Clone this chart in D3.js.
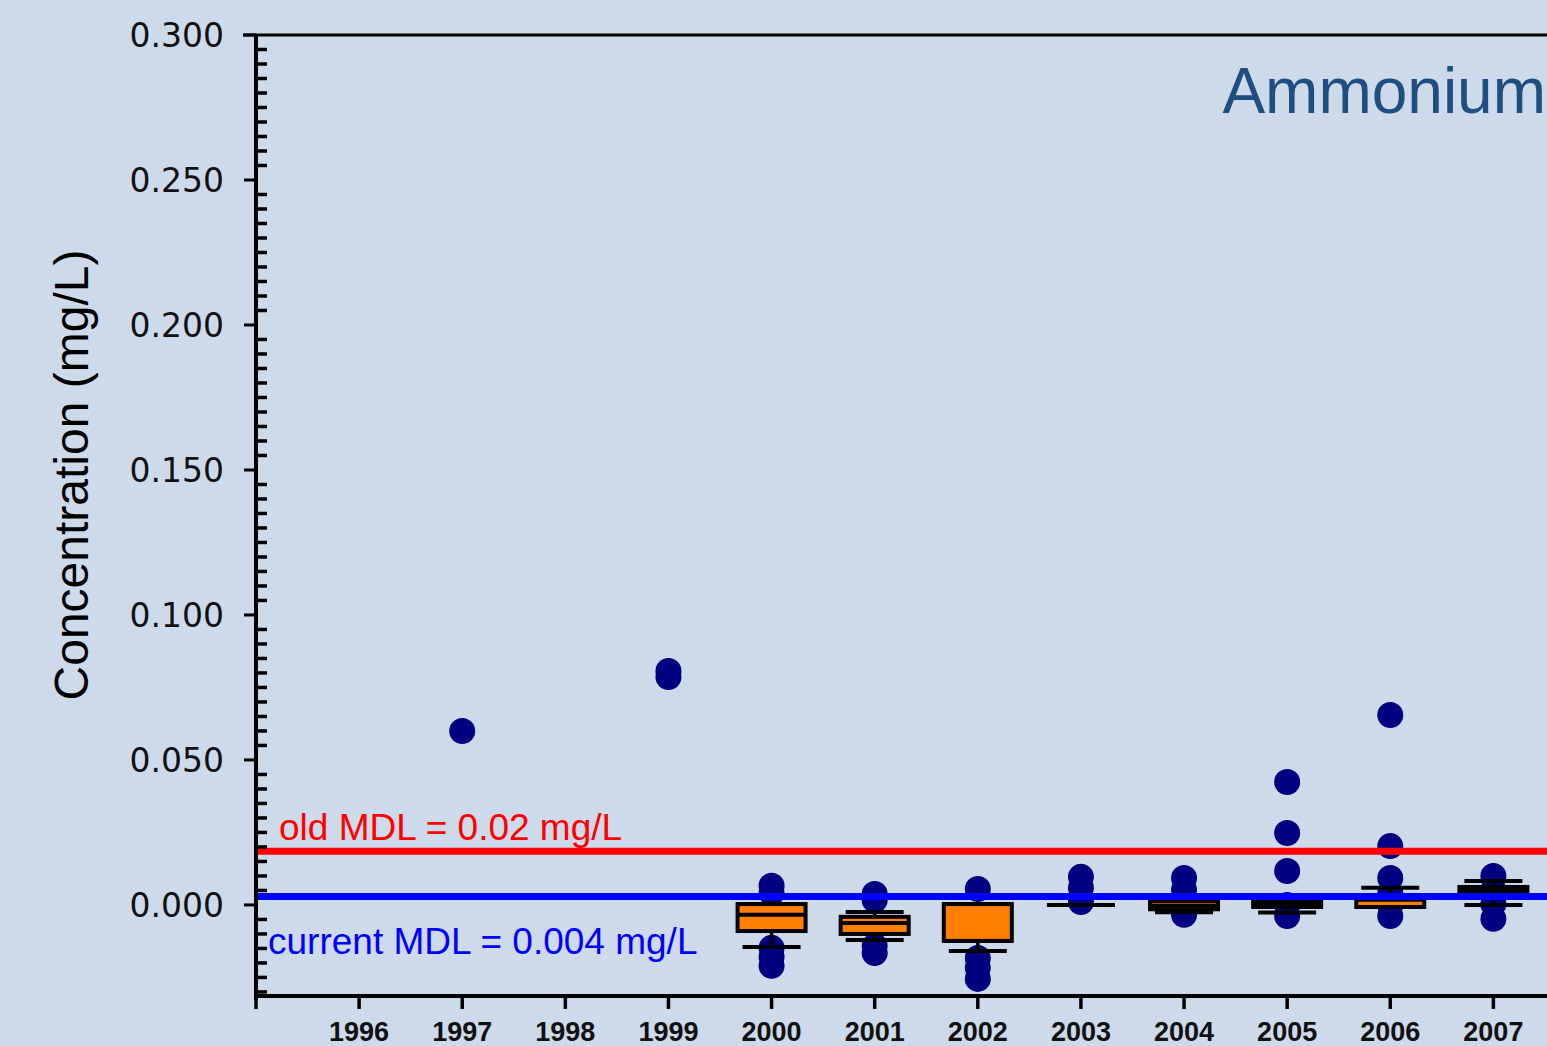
<!DOCTYPE html>
<html>
<head>
<meta charset="utf-8">
<script src="https://cdn.jsdelivr.net/npm/d3@7"></script>
<style>
  html, body { margin: 0; padding: 0; background: #cddaea; overflow: hidden; }
  svg { display: block; }
</style>
</head>
<body>
<script>
// box plot summary per year
const boxYears    = [2000, 2001, 2002, 2003, 2004, 2005, 2006, 2007];
const lowWhisker  = [-0.0145, -0.0121, -0.0159, 0, -0.0025, -0.0026, -0.0007, 0.0000];
const q1          = [-0.0090, -0.0100, -0.0124, 0, -0.0015, -0.0007, -0.0007, 0.0034];
const median      = [-0.0034, -0.0062, -0.0124, 0, -0.0003,  0.0003, -0.0007, 0.0048];
const q3          = [ 0.0003, -0.0041,  0.0003, 0,  0.0013,  0.0013,  0.0018, 0.0062];
const highWhisker = [ 0.0003, -0.0024,  0.0003, 0,  0.0013,  0.0013,  0.0059, 0.0083];

// individual samples (dots)
const pointYears  = [1997, 1999, 1999,
  2000, 2000, 2000, 2000, 2000,
  2001, 2001, 2001, 2001,
  2002, 2002, 2002, 2002,
  2003, 2003, 2003, 2003,
  2004, 2004, 2004, 2004, 2004,
  2005, 2005, 2005, 2005, 2005,
  2006, 2006, 2006, 2006, 2006, 2006,
  2007, 2007, 2007, 2007];
const pointValues = [0.0600, 0.0807, 0.0786,
  0.0066, 0.0041, -0.0148, -0.0179, -0.0210,
  0.0038, 0.0017, -0.0141, -0.0166,
  0.0055, -0.0183, -0.0217, -0.0255,
  0.0097, 0.0059, 0.0024, 0.0010,
  0.0093, 0.0052, 0.0014, -0.0024, -0.0034,
  0.0424, 0.0248, 0.0117, 0.0000, -0.0038,
  0.0655, 0.0203, 0.0093, 0.0041, 0.0000, -0.0038,
  0.0100, 0.0052, 0.0003, -0.0048];

const xTickYears = [1996, 1997, 1998, 1999, 2000, 2001, 2002, 2003, 2004, 2005, 2006, 2007];
const yTicks = [0, 0.05, 0.10, 0.15, 0.20, 0.25, 0.30];

// detection limit lines (drawn where the picture shows them)
const mdlLabels = ["old MDL = 0.02 mg/L", "current MDL = 0.004 mg/L"];
const mdlValues = [0.0185, 0.0029];
const mdlColors = ["#ff0000", "#0000ff"];

const W = 1547, H = 1046;
const plotLeft = 256, plotRight = W, plotTop = 35, plotBottom = 996;

const svg = d3.select('body').append('svg')
  .attr('width', W)
  .attr('height', H)

svg.append('rect').attr('width', W).attr('height', H).attr('fill', '#cddaea')

const x = d3.scaleLinear().domain([1995, 2007.52]).range([plotLeft, plotRight])
const y = d3.scaleLinear().domain([-0.0314, 0.3]).range([plotBottom, plotTop])

// dots go under the boxes
svg.append('g').selectAll('circle')
  .data(pointValues)
  .join('circle')
  .attr('cx', (d, i) => x(pointYears[i]))
  .attr('cy', (d) => y(d))
  .attr('r', 13)
  .attr('fill', '#000080')

const boxW = 68, capW = 58;
const boxes = svg.append('g').selectAll('g')
  .data(boxYears)
  .join('g')

// whisker stems
boxes.append('line')
  .attr('x1', (d) => x(d)).attr('x2', (d) => x(d))
  .attr('y1', (d, i) => y(lowWhisker[i])).attr('y2', (d, i) => y(highWhisker[i]))
  .attr('stroke', '#000').attr('stroke-width', 3.5)

// whisker caps
boxes.append('line')
  .attr('x1', (d) => x(d) - capW / 2).attr('x2', (d) => x(d) + capW / 2)
  .attr('y1', (d, i) => y(lowWhisker[i])).attr('y2', (d, i) => y(lowWhisker[i]))
  .attr('stroke', '#000').attr('stroke-width', 4)
boxes.append('line')
  .attr('x1', (d) => x(d) - capW / 2).attr('x2', (d) => x(d) + capW / 2)
  .attr('y1', (d, i) => y(highWhisker[i])).attr('y2', (d, i) => y(highWhisker[i]))
  .attr('stroke', '#000').attr('stroke-width', 4)

boxes.append('rect')
  .attr('x', (d) => x(d) - boxW / 2)
  .attr('width', boxW)
  .attr('y', (d, i) => y(q3[i]))
  .attr('height', (d, i) => y(q1[i]) - y(q3[i]))
  .attr('fill', '#ff8000')
  .attr('stroke', '#000')
  .attr('stroke-width', 4)

boxes.append('line')
  .attr('x1', (d) => x(d) - boxW / 2).attr('x2', (d) => x(d) + boxW / 2)
  .attr('y1', (d, i) => y(median[i])).attr('y2', (d, i) => y(median[i]))
  .attr('stroke', '#000').attr('stroke-width', 4)

// MDL lines on top of everything in the plot
svg.append('g').selectAll('line')
  .data(mdlValues)
  .join('line')
  .attr('x1', plotLeft).attr('x2', plotRight)
  .attr('y1', (d) => y(d)).attr('y2', (d) => y(d))
  .attr('stroke', (d, i) => mdlColors[i])
  .attr('stroke-width', 7)

svg.append('text')
  .attr('x', 279).attr('y', y(mdlValues[0]) - 11)
  .attr('font-family', 'Liberation Sans, Arial, sans-serif')
  .attr('font-size', 37)
  .attr('fill', mdlColors[0])
  .text(mdlLabels[0])

svg.append('text')
  .attr('x', 268).attr('y', y(mdlValues[1]) + 57)
  .attr('font-family', 'Liberation Sans, Arial, sans-serif')
  .attr('font-size', 37)
  .attr('fill', mdlColors[1])
  .text(mdlLabels[1])

// top frame line
svg.append('line')
  .attr('x1', 243).attr('x2', plotRight)
  .attr('y1', plotTop).attr('y2', plotTop)
  .attr('stroke', '#000').attr('stroke-width', 3)

// y axis: major ticks outside, minor ticks inside
const yAxis = svg.append('g').attr('transform', `translate(${plotLeft},0)`)
yAxis.append('line')
  .attr('x1', 0).attr('x2', 0).attr('y1', plotTop).attr('y2', plotBottom + 4)
  .attr('stroke', '#000').attr('stroke-width', 4)

const minor = d3.range(-6, 60).map((k) => k * 0.005)
  .filter((v) => v >= y.domain()[0] && v < 0.3 && Math.abs(v / 0.05 - Math.round(v / 0.05)) > 1e-6)
yAxis.selectAll('.minor')
  .data(minor)
  .join('line')
  .attr('class', 'minor')
  .attr('x1', 0).attr('x2', 11)
  .attr('y1', (d) => y(d)).attr('y2', (d) => y(d))
  .attr('stroke', '#000').attr('stroke-width', 3.5)

yAxis.selectAll('.major')
  .data(yTicks)
  .join('line')
  .attr('class', 'major')
  .attr('x1', -12).attr('x2', 0)
  .attr('y1', (d) => y(d)).attr('y2', (d) => y(d))
  .attr('stroke', '#000').attr('stroke-width', 3)

yAxis.selectAll('.ylab')
  .data(yTicks)
  .join('text')
  .attr('class', 'ylab')
  .attr('x', -32)
  .attr('y', (d) => y(d))
  .attr('dy', '0.36em')
  .attr('text-anchor', 'end')
  .attr('font-family', 'DejaVu Sans, sans-serif')
  .attr('font-size', 33)
  .attr('fill', '#111')
  .text(d3.format('.3f'))

// x axis
const xAxis = svg.append('g').attr('transform', `translate(0,${plotBottom})`)
xAxis.append('line')
  .attr('x1', plotLeft - 2).attr('x2', plotRight).attr('y1', 0).attr('y2', 0)
  .attr('stroke', '#000').attr('stroke-width', 4)

xAxis.selectAll('.xt')
  .data([1995].concat(xTickYears))
  .join('line')
  .attr('class', 'xt')
  .attr('x1', (d) => x(d)).attr('x2', (d) => x(d))
  .attr('y1', 0).attr('y2', 13)
  .attr('stroke', '#000').attr('stroke-width', 3.5)

xAxis.selectAll('.xlab')
  .data(xTickYears)
  .join('text')
  .attr('class', 'xlab')
  .attr('x', (d) => x(d))
  .attr('y', 45)
  .attr('text-anchor', 'middle')
  .attr('font-family', 'Liberation Sans, Arial, sans-serif')
  .attr('font-weight', 'bold')
  .attr('font-size', 27)
  .attr('fill', '#111')
  .text((d) => d)

// axis title
svg.append('text')
  .attr('transform', 'translate(88,475) rotate(-90)')
  .attr('text-anchor', 'middle')
  .attr('font-family', 'Liberation Sans, Arial, sans-serif')
  .attr('font-size', 48)
  .attr('fill', '#000')
  .text('Concentration (mg/L)')

svg.append('text')
  .attr('x', 1546).attr('y', 113)
  .attr('text-anchor', 'end')
  .attr('font-family', 'Liberation Sans, Arial, sans-serif')
  .attr('font-size', 64)
  .attr('fill', '#1f4e80')
  .text('Ammonium')
</script>
</body>
</html>
